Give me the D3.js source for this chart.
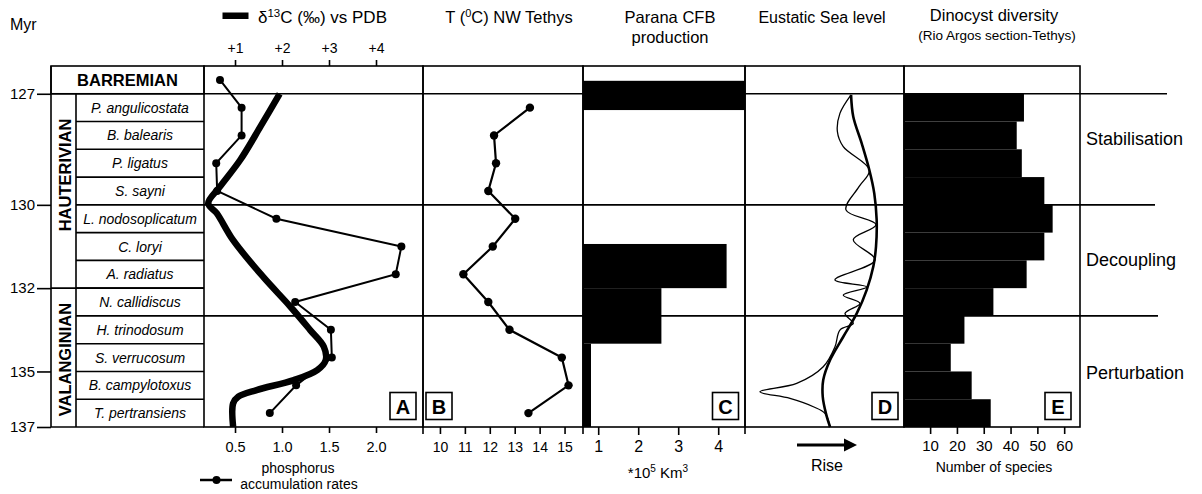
<!DOCTYPE html>
<html>
<head>
<meta charset="utf-8">
<script src="https://cdn.jsdelivr.net/npm/d3@7"></script>
<style>
body { margin: 0; background: #fff; }
svg { font-family: "Liberation Sans", Arial, sans-serif; }
</style>
</head>
<body>
<svg id="chart" width="1202" height="494"></svg>
<script>
// ammonite zones, top (young) to bottom (old), with the base age of each zone in Myr
var zones = ["P. angulicostata", "B. balearis", "P. ligatus", "S. sayni", "L. nodosoplicatum", "C. loryi",
  "A. radiatus", "N. callidiscus", "H. trinodosum", "S. verrucosum", "B. campylotoxus", "T. pertransiens"];
var zoneBase = [127.75, 128.5, 129.25, 130, 130.67, 131.33, 132, 133, 134, 135, 136, 137];
var barremian = [126.25, 127];
var stages = ["HAUTERIVIAN", "VALANGINIAN"];
var stageTop = [127, 132];
var stageBase = [132, 137];
var ageTicks = [127, 130, 132, 135, 137];

// A: phosphorus accumulation rates (Barremian row + 12 zones)
var phosphorus = [0.34, 0.57, 0.57, 0.30, 0.31, 0.94, 2.27, 2.21, 1.14, 1.52, 1.53, 1.15, 0.87];
// A: d13C curve
var d13cAge = [127.0, 127.89, 128.79, 129.51, 129.96, 130.2, 130.85, 131.73, 132.67, 133.51, 134.11, 134.59, 134.95, 135.31, 135.67, 135.91, 136.15, 137.0];
var d13cVal = [1.95, 1.54, 1.11, 0.68, 0.43, 0.61, 0.96, 1.6, 2.18, 2.6, 2.89, 2.93, 2.75, 2.25, 1.46, 1.07, 0.96, 0.96];
// B: temperature per zone
var temperature = [13.61, 12.17, 12.25, 11.94, 13.02, 12.12, 10.94, 11.94, 12.79, 14.89, 15.16, 13.55];
// C: Parana CFB production (*10^5 km3)
var cfbTop = [126.65, 130.94, 132.0, 134.0];
var cfbBase = [127.44, 132.0, 134.0, 137.0];
var cfbVolume = [4.7, 4.21, 2.58, 0.82];
// D: eustatic sea level (relative, rise to the right)
var seaLongAge = [127.03, 127.62, 128.34, 129.06, 129.69, 130.36, 131.0, 131.48, 132.07, 132.91, 133.75, 134.59, 135.31, 135.91, 136.51, 137.0];
var seaLongVal = [66.7, 68.1, 73.4, 78.2, 81.3, 82.8, 82.4, 80.7, 76.5, 70.3, 61.8, 53.5, 49.2, 48.9, 50.9, 53.5];
var seaShortAge = [127.03, 127.53, 128.02, 128.43, 129.06, 129.51, 130.12, 130.48, 130.84, 131.32, 131.8, 131.97, 132.25, 132.55, 132.91, 133.27, 133.51, 134.11, 134.83, 135.43, 135.73, 135.97, 136.27, 136.51, 137.0];
var seaShortVal = [66.7, 59.7, 58.1, 61.8, 78.2, 71.7, 63.5, 82.4, 68.1, 81.8, 56.6, 76.5, 61.8, 72.3, 62.9, 68.1, 59.7, 56.6, 49.2, 32.5, 9.4, 28.3, 43.0, 50.3, 53.5];
// E: dinocyst diversity per zone (number of species)
var dinocysts = [45.0, 42.3, 44.2, 52.6, 55.7, 52.6, 46.0, 33.6, 22.8, 17.7, 25.5, 32.6];
var phases = ["Stabilisation", "Decoupling", "Perturbation"];
var phaseTop = [127, 130, 133];
var phaseBase = [130, 133, 137];

var svg = d3.select("#chart");
var top0 = 66, bot = 427;
var edges = [204, 423, 583, 745, 904, 1080];

// zones are drawn with equal height, so the time axis is piecewise linear
var zoneTop = [127].concat(zoneBase.slice(0, -1));
var yIdx = d3.scaleLinear().domain([-1, 12]).range([top0, bot]);
var y = d3.scaleLinear().domain([127].concat(zoneBase)).range(d3.range(13).map(yIdx));

var xD13 = d3.scaleLinear().domain([0.34, 5.0]).range([edges[0], edges[1]]);
var xP = d3.scaleLinear().domain([0.17, 2.5]).range([edges[0], edges[1]]);
var xT = d3.scaleLinear().domain([9.32, 15.74]).range([edges[1], edges[2]]);
var xC = d3.scaleLinear().domain([0.62, 4.67]).range([edges[2], edges[3]]).clamp(true);
var xS = d3.scaleLinear().domain([0, 100]).range([edges[3], edges[4]]);
var xE = d3.scaleLinear().domain([0.26, 65.9]).range([edges[4], edges[5]]).clamp(true);

// horizontal lines
var g = svg.append("g").attr("stroke", "#000").attr("stroke-width", 1.6);
g.selectAll(".zb").data(zoneTop.slice(1)).enter().append("line")
  .attr("x1", 76).attr("x2", edges[0]).attr("y1", d => y(d)).attr("y2", d => y(d));
var dividers = [127, 130, 133];
var divStart = [51, 204, 204];
var divEnd = [1167, 1155, 1158];
g.selectAll(".dv").data(dividers).enter().append("line")
  .attr("x1", (d, i) => divStart[i]).attr("x2", (d, i) => divEnd[i])
  .attr("y1", d => y(d)).attr("y2", d => y(d));
g.append("line").attr("x1", 51).attr("x2", edges[0]).attr("y1", y(stageBase[0])).attr("y2", y(stageBase[0]));

// left columns
g.append("rect").attr("x", 51).attr("y", y(barremian[0])).attr("width", edges[0] - 51)
  .attr("height", y(barremian[1]) - y(barremian[0])).attr("fill", "none");
g.append("line").attr("x1", 51).attr("x2", 51).attr("y1", top0).attr("y2", bot);
g.append("line").attr("x1", 76).attr("x2", 76).attr("y1", y(127)).attr("y2", bot);
g.append("line").attr("x1", 51).attr("x2", edges[0]).attr("y1", bot).attr("y2", bot);

svg.append("text").attr("x", 127.5).attr("y", (y(barremian[0]) + y(barremian[1])) / 2 + 6)
  .attr("text-anchor", "middle").attr("font-weight", "bold").attr("font-size", 16.5).text("BARREMIAN");
svg.selectAll(".zn").data(zones).enter().append("text")
  .attr("x", 140).attr("y", (d, i) => (y(zoneTop[i]) + y(zoneBase[i])) / 2 + 5)
  .attr("text-anchor", "middle").attr("font-style", "italic").attr("font-size", 14).text(d => d);
var stageShift = [-16, 2];
svg.selectAll(".st").data(stages).enter().append("text")
  .attr("transform", (d, i) => "translate(70.5," + ((y(stageTop[i]) + y(stageBase[i])) / 2 + stageShift[i]) + ") rotate(-90)")
  .attr("text-anchor", "middle").attr("font-weight", "bold").attr("font-size", 16.5).text(d => d);

// bars C and E
svg.selectAll(".cfb").data(cfbVolume).enter().append("rect")
  .attr("x", xC(0)).attr("y", (d, i) => y(cfbTop[i]))
  .attr("width", d => xC(d) - xC(0)).attr("height", (d, i) => y(cfbBase[i]) - y(cfbTop[i]))
  .attr("fill", "#000");
svg.selectAll(".dino").data(dinocysts).enter().append("rect")
  .attr("x", xE(0)).attr("y", (d, i) => y(zoneTop[i]))
  .attr("width", d => xE(d) - xE(0)).attr("height", (d, i) => y(zoneBase[i]) - y(zoneTop[i]))
  .attr("fill", "#000");

// panel frames
for (var i = 0; i < edges.length - 1; i++) {
  g.append("rect").attr("x", edges[i]).attr("y", top0).attr("width", edges[i + 1] - edges[i])
    .attr("height", bot - top0).attr("fill", "none");
}
[edges[1], edges[2], edges[3]].forEach(function(x) {
  g.append("line").attr("x1", x).attr("x2", x).attr("y1", bot).attr("y2", bot + 7);
});

// A: d13C
var d13c = d13cAge.map((a, i) => [a, d13cVal[i]]);
svg.append("path").datum(d13c)
  .attr("d", d3.line().x(d => xD13(d[1])).y(d => y(d[0])).curve(d3.curveCatmullRom.alpha(0.5)))
  .attr("fill", "none").attr("stroke", "#000").attr("stroke-width", 6.5);

// A: phosphorus
var rowMid = [(barremian[0] + barremian[1]) / 2].concat(zoneTop.map((t, i) => (t + zoneBase[i]) / 2));
var phos = phosphorus.map((v, i) => [rowMid[i], v]);
svg.append("path").datum(phos)
  .attr("d", d3.line().x(d => xP(d[1])).y(d => y(d[0])))
  .attr("fill", "none").attr("stroke", "#000").attr("stroke-width", 2);
svg.selectAll(".pd").data(phos).enter().append("circle")
  .attr("cx", d => xP(d[1])).attr("cy", d => y(d[0])).attr("r", 4).attr("fill", "#000");

// B: temperature
var temp = temperature.map((v, i) => [rowMid[i + 1], v]);
svg.append("path").datum(temp)
  .attr("d", d3.line().x(d => xT(d[1])).y(d => y(d[0])))
  .attr("fill", "none").attr("stroke", "#000").attr("stroke-width", 2.2);
svg.selectAll(".td").data(temp).enter().append("circle")
  .attr("cx", d => xT(d[1])).attr("cy", d => y(d[0])).attr("r", 4.2).attr("fill", "#000");

// D: sea level
var seaLine = d3.line().x(d => xS(d[1])).y(d => y(d[0])).curve(d3.curveCatmullRom.alpha(0.5));
svg.append("path").datum(seaShortAge.map((a, i) => [a, seaShortVal[i]]))
  .attr("d", seaLine).attr("fill", "none").attr("stroke", "#000").attr("stroke-width", 1.3);
svg.append("path").datum(seaLongAge.map((a, i) => [a, seaLongVal[i]]))
  .attr("d", seaLine).attr("fill", "none").attr("stroke", "#000").attr("stroke-width", 2.6);

// panel letters
var letters = ["A", "B", "C", "D", "E"];
var letterX = [390, 426, 712.5, 872, 1045];
var lg = svg.selectAll(".lt").data(letters).enter().append("g")
  .attr("transform", (d, i) => "translate(" + letterX[i] + ",392.5)");
lg.append("rect").attr("width", 26).attr("height", 27).attr("fill", "#fff")
  .attr("stroke", "#000").attr("stroke-width", 1.6);
lg.append("text").attr("x", 13).attr("y", 21).attr("text-anchor", "middle")
  .attr("font-weight", "bold").attr("font-size", 20).text(d => d);

// axes
function styleAxis(sel, size) {
  sel.select(".domain").remove();
  sel.selectAll("line").attr("stroke", "#000").attr("stroke-width", 1.6);
  sel.selectAll("text").attr("fill", "#000").attr("font-size", size).attr("font-family", "Liberation Sans, Arial, sans-serif");
}
var ay = svg.append("g").attr("transform", "translate(51,0)")
  .call(d3.axisLeft(y).tickValues(ageTicks).tickFormat(d3.format("d")).tickSize(14).tickPadding(2));
styleAxis(ay, 15);
var at = svg.append("g").attr("transform", "translate(0," + top0 + ")")
  .call(d3.axisTop(xD13).tickValues([1, 2, 3, 4]).tickFormat(d => "+" + d).tickSize(6).tickPadding(7));
styleAxis(at, 14);
var aa = svg.append("g").attr("transform", "translate(0," + bot + ")")
  .call(d3.axisBottom(xP).tickValues([0.5, 1, 1.5, 2]).tickFormat(d3.format(".1f")).tickSize(6).tickPadding(9));
styleAxis(aa, 14.5);
var ab = svg.append("g").attr("transform", "translate(0," + bot + ")")
  .call(d3.axisBottom(xT).tickValues([10, 11, 12, 13, 14, 15]).tickFormat(d3.format("d")).tickSize(7).tickPadding(8));
styleAxis(ab, 14);
var ac = svg.append("g").attr("transform", "translate(0," + bot + ")")
  .call(d3.axisBottom(xC).tickValues([1, 2, 3, 4]).tickFormat(d3.format("d")).tickSize(8).tickPadding(6));
styleAxis(ac, 16);
var ae = svg.append("g").attr("transform", "translate(0," + bot + ")")
  .call(d3.axisBottom(xE).tickValues([10, 20, 30, 40, 50, 60]).tickFormat(d3.format("d")).tickSize(7).tickPadding(6));
styleAxis(ae, 15);

// header texts
svg.append("text").attr("x", 10).attr("y", 30).attr("font-size", 16).text("Myr");
svg.append("rect").attr("x", 222.5).attr("y", 12.5).attr("width", 26).attr("height", 6.5).attr("fill", "#000");
var t1 = svg.append("text").attr("x", 258).attr("y", 23).attr("font-size", 17);
t1.append("tspan").text("\u03b4");
t1.append("tspan").attr("font-size", 11.5).attr("dy", -6).text("13");
t1.append("tspan").attr("dy", 6).text("C (\u2030) vs PDB");
var t2 = svg.append("text").attr("x", 509).attr("y", 23).attr("font-size", 16.5).attr("text-anchor", "middle");
t2.append("tspan").text("T (");
t2.append("tspan").attr("font-size", 11).attr("dy", -6).text("0");
t2.append("tspan").attr("dy", 6).text("C) NW Tethys");
svg.append("text").attr("x", 670).attr("y", 23).attr("font-size", 16.5).attr("text-anchor", "middle").text("Parana CFB");
svg.append("text").attr("x", 670).attr("y", 43).attr("font-size", 16.5).attr("text-anchor", "middle").text("production");
svg.append("text").attr("x", 822).attr("y", 23).attr("font-size", 16).attr("text-anchor", "middle").text("Eustatic Sea level");
svg.append("text").attr("x", 994).attr("y", 21).attr("font-size", 16.5).attr("text-anchor", "middle").text("Dinocyst diversity");
svg.append("text").attr("x", 997).attr("y", 40).attr("font-size", 13.5).attr("text-anchor", "middle").text("(Rio Argos section-Tethys)");

// phases
var phaseShift = [-10, 0, 2];
svg.selectAll(".ph").data(phases).enter().append("text")
  .attr("x", 1086).attr("y", (d, i) => (y(phaseTop[i]) + y(phaseBase[i])) / 2 + 6 + phaseShift[i])
  .attr("font-size", 18).text(d => d);

// bottom texts
svg.append("line").attr("x1", 200).attr("x2", 232).attr("y1", 480).attr("y2", 480).attr("stroke", "#000").attr("stroke-width", 2.5);
svg.append("circle").attr("cx", 216.5).attr("cy", 480).attr("r", 4).attr("fill", "#000");
svg.append("text").attr("x", 298).attr("y", 473).attr("font-size", 14).attr("text-anchor", "middle").text("phosphorus");
svg.append("text").attr("x", 299).attr("y", 489).attr("font-size", 14).attr("text-anchor", "middle").text("accumulation rates");
var t3 = svg.append("text").attr("x", 658).attr("y", 478).attr("font-size", 15).attr("text-anchor", "middle");
t3.append("tspan").text("*10");
t3.append("tspan").attr("font-size", 10).attr("dy", -6).text("5");
t3.append("tspan").attr("dy", 6).text(" Km");
t3.append("tspan").attr("font-size", 10).attr("dy", -6).text("3");
svg.append("line").attr("x1", 797).attr("x2", 846).attr("y1", 445).attr("y2", 445).attr("stroke", "#000").attr("stroke-width", 3);
svg.append("path").attr("d", "M844,438.5L857,445L844,451.5Z").attr("fill", "#000");
svg.append("text").attr("x", 827).attr("y", 471).attr("font-size", 16).attr("text-anchor", "middle").text("Rise");
svg.append("text").attr("x", 994).attr("y", 472).attr("font-size", 14).attr("text-anchor", "middle").text("Number of species");
</script>
</body>
</html>
